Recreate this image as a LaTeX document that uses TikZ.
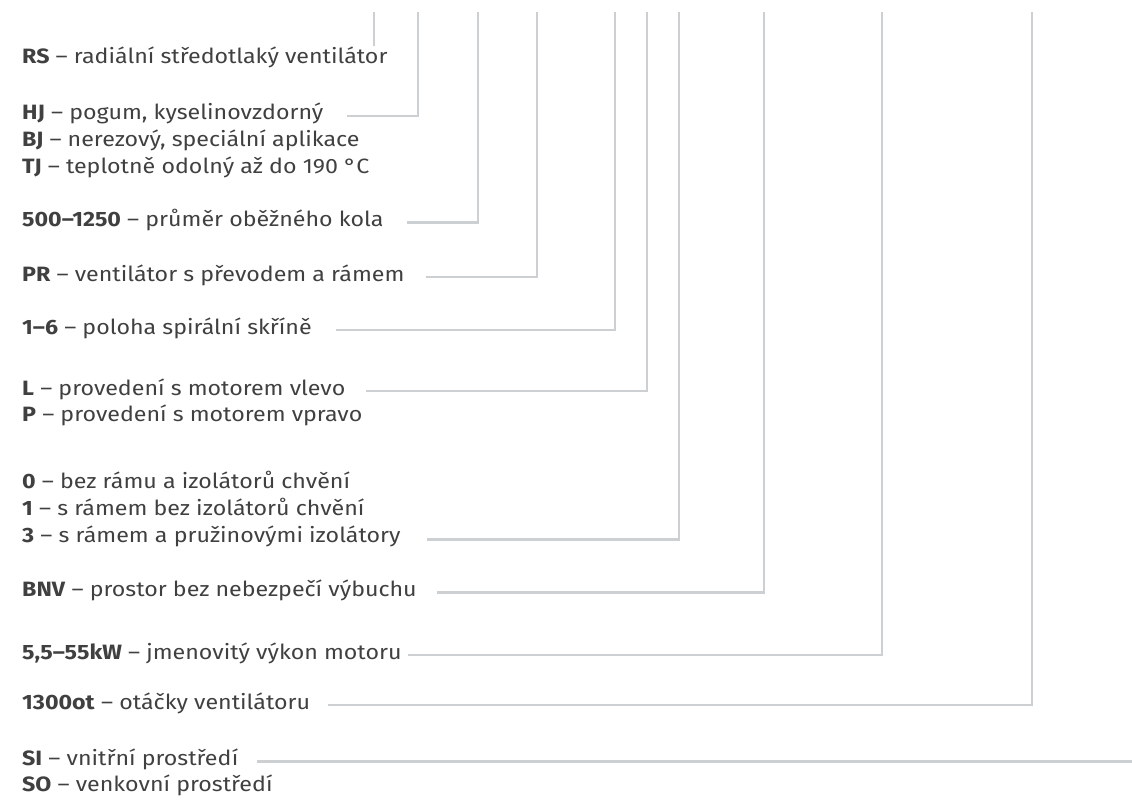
\documentclass[tikz,border=0pt]{standalone}
\usepackage{fontspec}
\setmainfont{Fira Sans}[FakeStretch=1.12]
\definecolor{txt}{HTML}{404040}
\definecolor{ln}{HTML}{CDD0D3}
\begin{document}
\begin{tikzpicture}[x=1bp,y=-1bp,
  lab/.style={anchor=mid west, inner sep=0pt, text=txt, font=\fontsize{20.8}{24}\selectfont},
  conn/.style={draw=ln, line width=2.6bp, line join=miter}]
\useasboundingbox (0,0) rectangle (1132,801);
% labels
\node[lab] (rs)  at (22,61)    {\textbf{RS} – radiální středotlaký ventilátor};
\node[lab] (hj)  at (22,116.5) {\textbf{HJ} – pogum, kyselinovzdorný};
\node[lab] (bj)  at (22,143.5) {\textbf{BJ} – nerezový, speciální aplikace};
\node[lab] (tj)  at (22,170.5) {\textbf{TJ} – teplotně odolný až do 190 °C};
\node[lab] (dia) at (22,224)   {\textbf{500–1250} – průměr oběžného kola};
\node[lab] (pr)  at (22,278.5) {\textbf{PR} – ventilátor s převodem a rámem};
\node[lab] (pos) at (22,331.5) {\textbf{1–6} – poloha spirální skříně};
\node[lab] (l)   at (22,392.5) {\textbf{L} – provedení s motorem vlevo};
\node[lab] (p)   at (22,419)   {\textbf{P} – provedení s motorem vpravo};
\node[lab] (r0)  at (22,486)   {\textbf{0} – bez rámu a izolátorů chvění};
\node[lab] (r1)  at (22,512.5) {\textbf{1} – s rámem bez izolátorů chvění};
\node[lab] (r3)  at (22,539.5) {\textbf{3} – s rámem a pružinovými izolátory};
\node[lab] (bnv) at (22,594)   {\textbf{BNV} – prostor bez nebezpečí výbuchu};
\node[lab] (kw)  at (22,656.5) {\textbf{5,5–55kW} – jmenovitý výkon motoru};
\node[lab] (ot)  at (22,706.5) {\textbf{1300ot} – otáčky ventilátoru};
\node[lab] (si)  at (22,762.5) {\textbf{SI} – vnitřní prostředí};
\node[lab] (so)  at (22,789)   {\textbf{SO} – venkovní prostředí};
% connector ends beside the labels
\coordinate (shj)  at (347,116);
\coordinate (sdia) at (407,222.7);
\coordinate (spr)  at (426,277);
\coordinate (spos) at (336,330);
\coordinate (sl)   at (366,391);
\coordinate (sr3)  at (427,539.3);
\coordinate (sbnv) at (437,592.5);
\coordinate (skw)  at (408,655);
\coordinate (sot)  at (328,705);
\coordinate (ssi)  at (257,761.3);
% top ends of the connectors
\coordinate (trs)  at (374,12);
\coordinate (brs)  at (374,46);
\coordinate (thj)  at (418,12);
\coordinate (tdia) at (478,12);
\coordinate (tpr)  at (537,12);
\coordinate (tpos) at (615,12);
\coordinate (tl)   at (647,12);
\coordinate (tr3)  at (679,12);
\coordinate (tbnv) at (764,12);
\coordinate (tkw)  at (882,12);
\coordinate (tot)  at (1032,12);
\coordinate (esi)  at (1132,761.3);
% connectors
\draw[conn] (brs) -- (trs);
\draw[conn] (shj)  -| (thj);
\draw[conn] (sdia) -| (tdia);
\draw[conn] (spr)  -| (tpr);
\draw[conn] (spos) -| (tpos);
\draw[conn] (sl)   -| (tl);
\draw[conn] (sr3)  -| (tr3);
\draw[conn] (sbnv) -| (tbnv);
\draw[conn] (skw)  -| (tkw);
\draw[conn] (sot)  -| (tot);
\draw[conn] (ssi)  -- (esi);
\end{tikzpicture}
\end{document}
